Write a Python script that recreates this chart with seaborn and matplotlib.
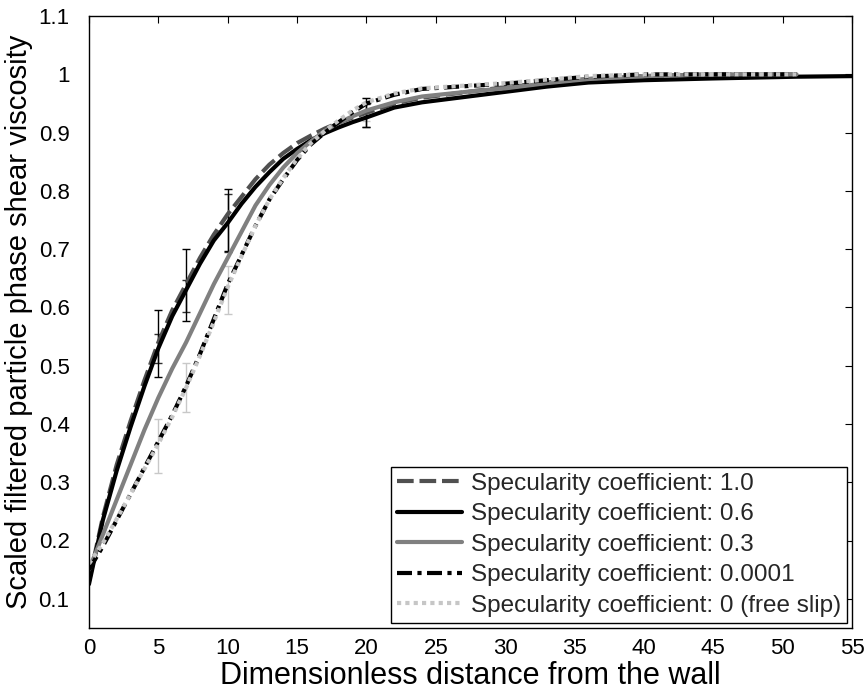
import matplotlib
matplotlib.use("Agg")
import matplotlib.pyplot as plt
import seaborn as sns
import pandas as pd

# Distance from the wall (dimensionless) at which the profiles are sampled
dist = [0, 1, 2, 3, 4, 5, 6, 7, 8, 9, 10, 11, 12, 13, 14, 15, 16, 17, 18, 19,
        20, 22, 24, 26, 28, 30, 33, 36, 40, 45, 51]
dist_long = dist + [55]

# Scaled filtered particle-phase shear viscosity for each specularity coefficient
spec_1_0 = [0.13, 0.24, 0.33, 0.405, 0.475, 0.54, 0.595, 0.64, 0.685, 0.725, 0.76,
            0.79, 0.82, 0.845, 0.865, 0.882, 0.895, 0.907, 0.917, 0.926, 0.934,
            0.95, 0.96, 0.966, 0.972, 0.978, 0.986, 0.992, 0.997, 1.0, 1.0]
spec_0_6 = [0.125, 0.235, 0.32, 0.395, 0.465, 0.53, 0.585, 0.63, 0.675, 0.715, 0.745,
            0.778, 0.807, 0.832, 0.855, 0.872, 0.887, 0.899, 0.909, 0.918, 0.926,
            0.943, 0.952, 0.958, 0.964, 0.97, 0.979, 0.986, 0.99, 0.993, 0.996, 0.997]
spec_0_3 = [0.15, 0.21, 0.27, 0.33, 0.39, 0.445, 0.495, 0.54, 0.59, 0.64, 0.685,
            0.73, 0.775, 0.81, 0.84, 0.865, 0.885, 0.903, 0.917, 0.928, 0.938,
            0.952, 0.962, 0.967, 0.972, 0.976, 0.985, 0.992, 0.997, 1.0, 1.0]
spec_0_0001 = [0.15, 0.19, 0.235, 0.28, 0.325, 0.37, 0.415, 0.465, 0.52, 0.58, 0.64,
               0.69, 0.74, 0.785, 0.82, 0.853, 0.88, 0.9, 0.918, 0.935, 0.95,
               0.965, 0.975, 0.978, 0.981, 0.984, 0.99, 0.996, 1.0, 1.0, 1.0]
spec_0_free = [0.16, 0.195, 0.237, 0.28, 0.323, 0.366, 0.412, 0.462, 0.517, 0.575, 0.635,
               0.688, 0.74, 0.785, 0.822, 0.855, 0.882, 0.903, 0.921, 0.938, 0.952,
               0.967, 0.976, 0.979, 0.982, 0.985, 0.991, 0.997, 1.0, 1.0, 1.0]

# Error bars (mean and half-width) at selected distances
err_x = [5, 7, 10, 20]
err_dark_mean = [0.538, 0.638, 0.75, 0.935]
err_dark_half = [0.058, 0.062, 0.053, 0.025]
err_dark2_mean = [0.53, 0.62, 0.745, 0.93]
err_dark2_half = [0.025, 0.027, 0.05, 0.02]
err_light_mean = [0.362, 0.462, 0.63, 0.94]
err_light_half = [0.047, 0.042, 0.041, 0.02]

labels = ["Specularity coefficient: 1.0",
          "Specularity coefficient: 0.6",
          "Specularity coefficient: 0.3",
          "Specularity coefficient: 0.0001",
          "Specularity coefficient: 0 (free slip)"]

sns.set_theme(style="white")
plt.rcParams["font.family"] = ["Liberation Sans", "DejaVu Sans"]

fig = plt.figure(figsize=(8.68, 7.0), dpi=100)
ax = fig.add_axes([0.1025, 0.103, 0.8791, 0.874])

series = [
    (dist, spec_1_0, "#505050", (0, (4.0, 1.4))),
    (dist_long, spec_0_6, "#000000", "-"),
    (dist, spec_0_3, "#808080", "-"),
    (dist, spec_0_0001, "#000000", (0, (3.6, 1.3, 1.0, 1.3))),
    (dist, spec_0_free, "#c6c6c6", (0, (1.0, 1.0))),
]

lw = 3.0
for (xs, ys, col, ls), lab in zip(series, labels):
    df = pd.DataFrame({"x": xs, "y": ys})
    sns.lineplot(data=df, x="x", y="y", ax=ax, color=col, linestyle=ls,
                 linewidth=lw, label=lab, sort=False)

# Error bars
ax.errorbar(err_x, err_light_mean, yerr=err_light_half, fmt="none",
            ecolor="#c8c8c8", elinewidth=1.0, capsize=3, capthick=1.0, zorder=1)
ax.errorbar(err_x, err_dark2_mean, yerr=err_dark2_half, fmt="none",
            ecolor="#303030", elinewidth=1.0, capsize=3, capthick=1.0, zorder=1)
ax.errorbar(err_x, err_dark_mean, yerr=err_dark_half, fmt="none",
            ecolor="#000000", elinewidth=1.0, capsize=3, capthick=1.0, zorder=1)

ax.set_xlim(0, 55)
ax.set_ylim(0.05, 1.1)
ax.set_xticks(range(0, 56, 5))
yt = [0.1, 0.2, 0.3, 0.4, 0.5, 0.6, 0.7, 0.8, 0.9, 1.0, 1.1]
ax.set_yticks(yt)
ax.set_yticklabels(["0.1", "0.2", "0.3", "0.4", "0.5", "0.6", "0.7", "0.8", "0.9", "1", "1.1"])

ax.tick_params(direction="in", length=5, width=0.8, top=True, right=True,
               labelsize=16, colors="black")
ax.tick_params(axis="y", pad=14)
ax.tick_params(axis="x", pad=7)
for sp in ax.spines.values():
    sp.set_color("black")
    sp.set_linewidth(1.0)

ax.set_xlabel("Dimensionless distance from the wall", fontsize=22, color="black", labelpad=2)
ax.set_ylabel("Scaled filtered particle phase shear viscosity", fontsize=21, color="black", labelpad=4)

leg = ax.legend(loc="lower right", fontsize=17.5, frameon=True, fancybox=False,
                edgecolor="black", framealpha=1, handlelength=2.7,
                handletextpad=0.35, labelspacing=0.35, borderpad=0.25,
                borderaxespad=0.2)
leg.get_frame().set_linewidth(1.0)

fig.savefig("out.png", dpi=100)
